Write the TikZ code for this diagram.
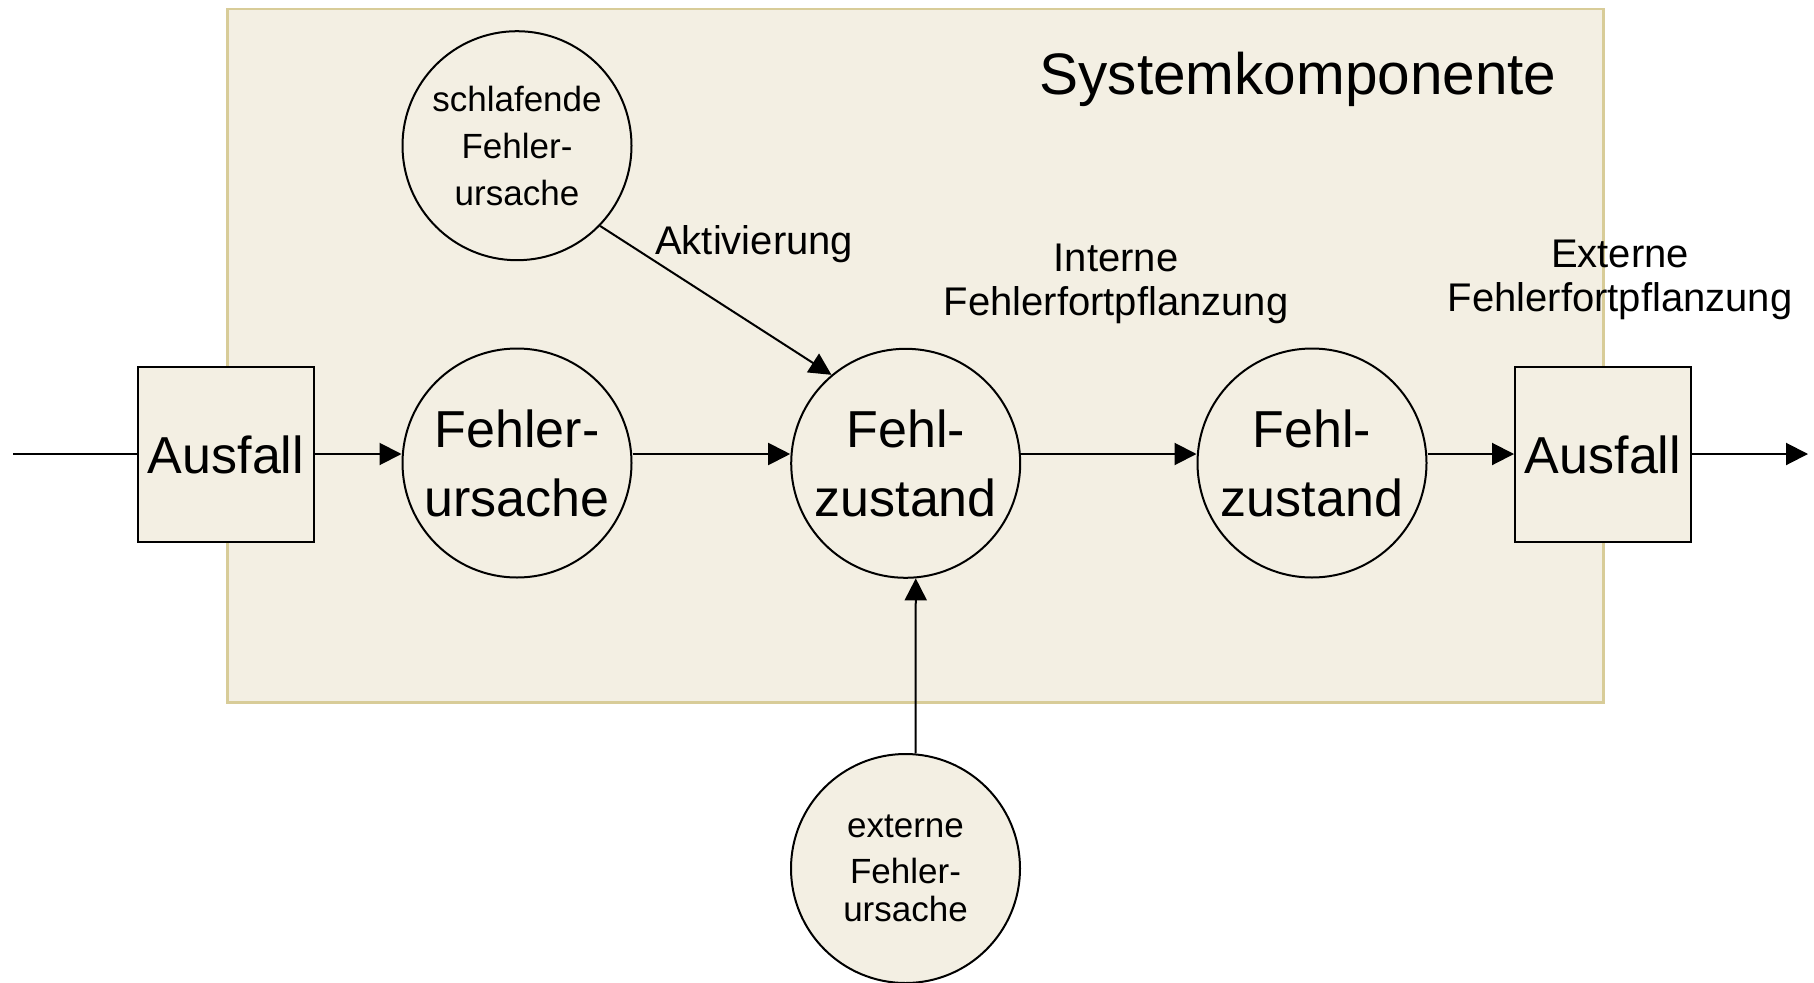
\documentclass[tikz,border=0pt]{standalone}
\usepackage{fontspec}
\setmainfont{Liberation Sans}
\usetikzlibrary{arrows.meta,calc}
\definecolor{bgfill}{HTML}{F3EFE3}
\definecolor{bgline}{HTML}{D8CC98}
\begin{document}
\begin{tikzpicture}[x=1pt,y=-1pt,
  circ/.style={circle,draw=black,line width=2pt,fill=bgfill,minimum size=229pt,inner sep=0pt,align=center},
  boxnode/.style={rectangle,draw=black,line width=2pt,fill=bgfill,minimum width=176pt,minimum height=175pt,inner sep=0pt},
  bigtext/.style={font=\fontsize{52}{69}\selectfont},
  smalltext/.style={font=\fontsize{35}{47}\selectfont},
  lbl/.style={inner sep=0pt,align=center,font=\fontsize{40}{44}\selectfont},
  conn/.style={line width=2pt,-{Triangle[length=22pt,width=22pt]}},
  plain/.style={line width=2pt}]
\useasboundingbox (0,0) rectangle (1814,982);
\fill[white] (0,0) rectangle (1814,982);
% system component area
\node[rectangle,draw=bgline,fill=bgfill,line width=2.5pt,minimum width=1376pt,minimum height=693pt,inner sep=0pt,anchor=north west] (sys) at (226,8) {};
\node[inner sep=0pt,anchor=base,font=\fontsize{58.5}{60}\selectfont] (title) at (1298,94) {Systemkomponente};
% nodes
\node[boxnode,bigtext] (la) at (226,454.5) {Ausfall};
\node[boxnode,bigtext] (ra) at (1603,454.5) {Ausfall};
\node[circ,bigtext] (fu) at (517,463) {Fehler-\\ursache};
\node[circ,bigtext] (fz1) at (905.7,463.3) {Fehl-\\zustand};
\node[circ,bigtext] (fz2) at (1312,463) {Fehl-\\zustand};
\node[circ,smalltext] (sf) at (517,145.7) {schlafende\\Fehler-\\ursache};
\node[circ,smalltext] (ext) at (905.5,868.5) {externe\\[-0.5pt]Fehler-\\[-9pt]ursache};
% labels
\node[lbl,anchor=base west] (akt) at (655,254.5) {Aktivierung};
\node[lbl,anchor=base] (intl) at (1116,315) {Interne\\Fehlerfortpflanzung};
\node[lbl,anchor=base] (extl) at (1620,311) {Externe\\Fehlerfortpflanzung};
% connectors
\coordinate (in) at (13,454);
\coordinate (out) at (1808,454);
\draw[plain] (in) -- (la.west |- in);
\draw[conn] (la.east |- in) -- (fu.west |- in);
\draw[conn] (fu.east |- in) -- (fz1.west |- in);
\draw[conn] (fz1.east |- in) -- (fz2.west |- in);
\draw[conn] (fz2.east |- in) -- (ra.west |- in);
\draw[conn] (ra.east |- in) -- (out);
\draw[conn] (sf.-44) -- (fz1.130);
\draw[conn] (ext.85.8) -- (fz1.-85.8);
\end{tikzpicture}
\end{document}
